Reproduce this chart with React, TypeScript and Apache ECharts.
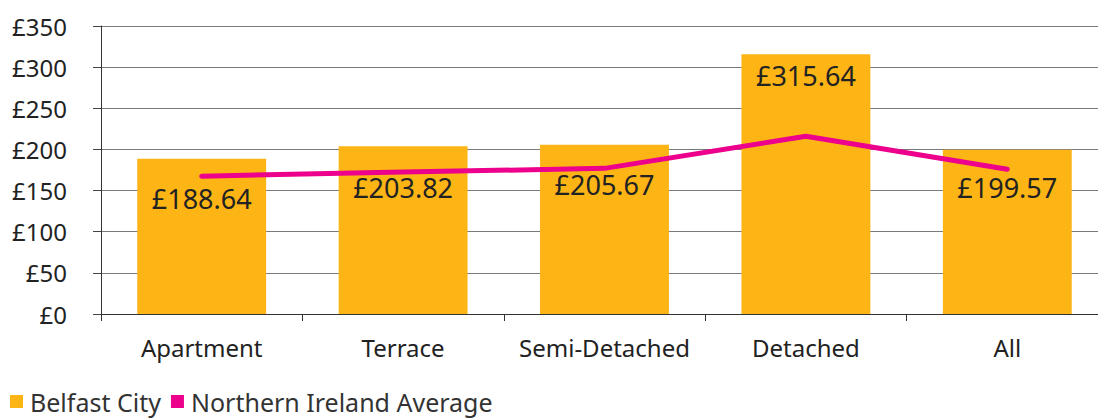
import React, { useEffect, useRef } from "react";
import * as echarts from "echarts";

const categories = ["Apartment", "Terrace", "Semi-Detached", "Detached", "All"];
const belfastCity = [188.64, 203.82, 205.67, 315.64, 199.57];
const niAverage = [167.5, 172.5, 177, 216, 176];
const labelDistances = [26, 28, 26, 8, 24];
const yTicks = { min: 0, max: 350, interval: 50 };

const FONT = "'Noto Sans', 'Open Sans', sans-serif";

export default function App() {
  const ref = useRef<HTMLDivElement>(null);
  useEffect(() => {
    if (!ref.current) return;
    const chart = echarts.init(ref.current, null, { renderer: "svg" });
    chart.setOption({
      animation: false,
      backgroundColor: "#ffffff",
      textStyle: { fontFamily: FONT },
      grid: { left: 101, right: 0, top: 26, bottom: 105, containLabel: false },
      legend: {
        left: 5,
        top: 384,
        itemWidth: 13,
        itemHeight: 13,
        itemGap: 10,
        textStyle: { fontSize: 25, color: "#333", fontFamily: FONT, padding: [0, 0, 0, 2] },
        data: [
          { name: "Belfast City", icon: "rect" },
          { name: "Northern Ireland Average", icon: "rect" },
        ],
      },
      xAxis: {
        type: "category",
        data: categories,
        boundaryGap: true,
        axisLine: { lineStyle: { color: "#333", width: 1 } },
        axisTick: { show: true, length: 7, interval: 0, lineStyle: { color: "#333" } },
        axisLabel: { fontSize: 24, color: "#222", margin: 21, fontFamily: FONT, interval: 0 },
      },
      yAxis: {
        type: "value",
        min: yTicks.min,
        max: yTicks.max,
        interval: yTicks.interval,
        axisLine: { show: true, lineStyle: { color: "#333", width: 1 } },
        axisTick: { show: true, length: 8, lineStyle: { color: "#444" } },
        axisLabel: {
          fontSize: 24,
          color: "#222",
          margin: 34,
          fontFamily: FONT,
          formatter: (v: number) => "£" + v,
        },
        splitLine: { show: true, lineStyle: { color: "#7a7a7a", width: 1 } },
      },
      series: [
        {
          name: "Belfast City",
          type: "bar",
          barWidth: "64%",
          itemStyle: { color: "#FDB515" },
          data: belfastCity.map((v, i) => ({
            value: v,
            label: {
              show: true,
              position: "insideTop",
              distance: labelDistances[i],
              formatter: (p: any) => "£" + Number(p.value).toFixed(2),
              fontSize: 27,
              color: "#222",
              fontFamily: FONT,
            },
          })),
          z: 2,
        },
        {
          name: "Northern Ireland Average",
          type: "line",
          data: niAverage,
          showSymbol: false,
          symbol: "none",
          itemStyle: { color: "#EC008C" },
          lineStyle: { color: "#EC008C", width: 5, cap: "round", join: "round" },
          z: 3,
        },
      ],
    });
    return () => chart.dispose();
  }, []);
  return (
    <div
      ref={ref}
      style={{ position: "fixed", left: 0, top: 0, width: 1108, height: 419, background: "#fff" }}
    />
  );
}
